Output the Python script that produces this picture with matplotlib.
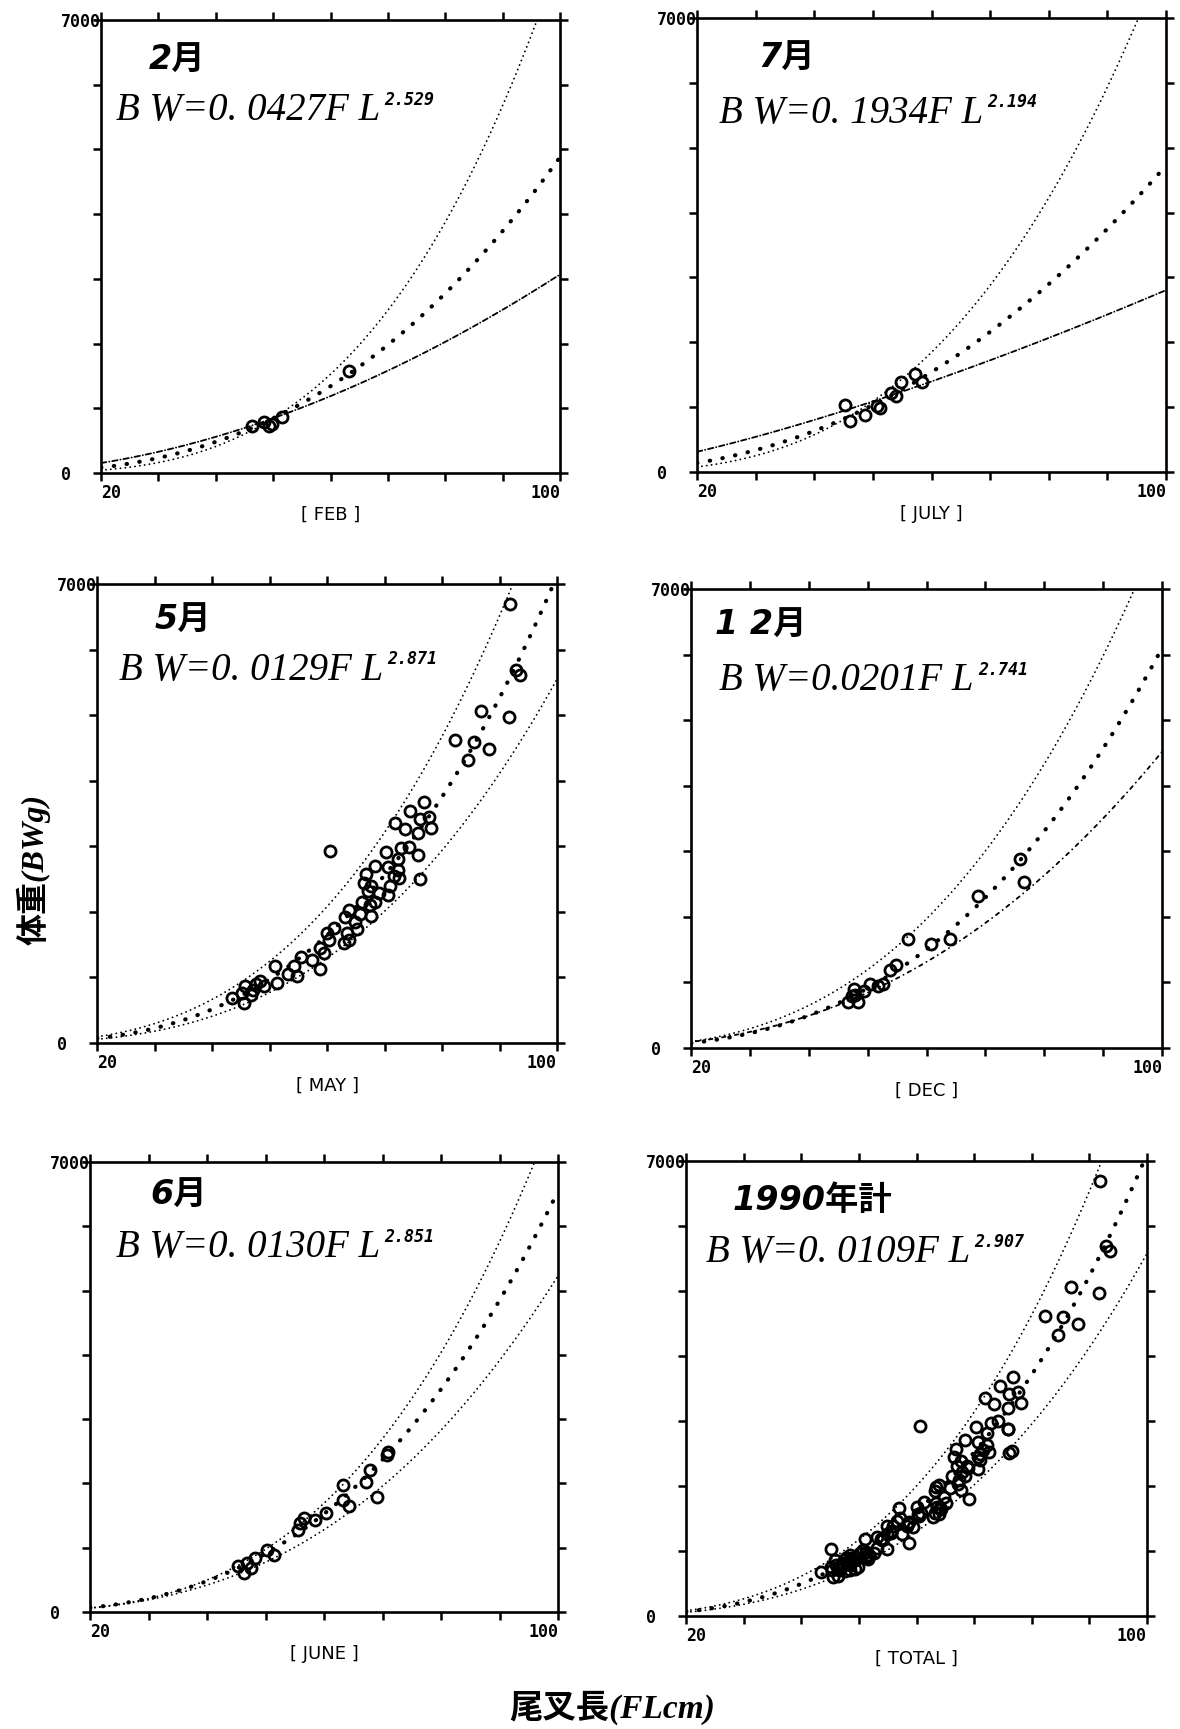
import numpy as np
import matplotlib
matplotlib.use('Agg')
import matplotlib.pyplot as plt

# panel order: FEB, JULY, MAY, DEC, JUNE, TOTAL
MONTH_TAGS = ['[ FEB ]', '[ JULY ]', '[ MAY ]', '[ DEC ]', '[ JUNE ]', '[ TOTAL ]']
MONTH_TITLES = ['2月', '7月', '5月', '1 2月', '6月', '1990年計']
EQ_COEF = ['0. 0427', '0. 1934', '0. 0129', '0.0201', '0. 0130', '0. 0109']
EQ_EXP = ['2.529', '2.194', '2.871', '2.741', '2.851', '2.907']

# fitted BW = a * FL^b (middle curve) and the two band curves
FIT_A = [0.0427, 0.1934, 0.0129, 0.0201, 0.0130, 0.0109]
FIT_B = [2.529, 2.194, 2.871, 2.741, 2.851, 2.907]
UPPER_A = [0.002645, 0.01397, 0.02045, 0.02655, 0.00722, 0.01285]
UPPER_B = [3.24, 2.88, 2.816, 2.739, 3.02, 2.92]
LOWER_A = [0.590, 5.22, 0.01107, 0.0656, 0.01616, 0.01113]
LOWER_B = [1.858, 1.365, 2.85, 2.419, 2.755, 2.85]

# observed fish (fork length cm, body weight g)
FEB_FL = [46.4, 48.4, 49.3, 49.8, 51.6, 63.2]
FEB_BW = [720, 790, 720, 760, 870, 1580]

JULY_FL = [45.2, 46.1, 48.6, 50.7, 51.3, 53.1, 54.0, 54.8, 57.2, 58.4]
JULY_BW = [1030, 780, 885, 1015, 990, 1220, 1170, 1380, 1510, 1380]

MAY_FL = [91.9, 92.9, 93.5, 86.8, 91.7, 82.3, 85.5, 88.1, 84.5, 76.8,
          74.5, 71.9, 76.1, 77.7, 73.5, 78.1, 75.8, 60.6, 70.3, 72.9,
          74.2, 75.8, 72.3, 68.4, 70.6, 72.3, 66.8, 71.6, 72.6, 76.1,
          66.5, 67.7, 71.0, 67.1, 69.0, 70.6, 66.1, 67.4, 68.4, 63.9,
          65.8, 67.7, 63.2, 64.8, 65.2, 61.3, 60.0, 63.5, 63.9, 62.9,
          60.3, 58.7, 59.4, 57.4, 55.5, 58.7, 54.2, 53.2, 54.8, 51.0,
          51.3, 48.4, 47.7, 49.0, 47.1, 45.8, 45.2, 43.5, 45.5, 46.8]
MAY_BW = [6695, 5687, 5619, 5067, 4973, 4621, 4595, 4490, 4322, 3676,
          3545, 3361, 3413, 3440, 3256, 3282, 3203, 2925, 2914, 2967,
          2993, 2872, 2809, 2704, 2678, 2636, 2573, 2547, 2520, 2505,
          2442, 2389, 2400, 2311, 2284, 2258, 2153, 2100, 2153, 2022,
          1969, 1943, 1917, 1838, 1733, 1759, 1680, 1680, 1575, 1523,
          1575, 1444, 1365, 1260, 1313, 1129, 1181, 1050, 1024, 1181,
          919, 945, 893, 866, 814, 866, 761, 683, 604, 735]

DEC_FL = [75.8, 76.6, 68.8, 64.0, 60.8, 56.9, 54.8, 53.8, 52.6, 51.7,
          50.4, 49.3, 47.7, 47.3, 46.7, 48.4, 47.9]
DEC_BW = [2875, 2538, 2312, 1655, 1587, 1655, 1261, 1182, 972, 946,
          972, 867, 893, 788, 709, 709, 814]

JUNE_FL = [71.0, 70.7, 67.9, 67.2, 63.3, 63.3, 64.3, 69.1, 60.4, 58.5,
           56.6, 55.9, 55.6, 50.2, 51.4, 48.2, 46.9, 45.3, 46.3, 47.6]
JUNE_BW = [2493, 2442, 2209, 2029, 1977, 1745, 1642, 1796, 1538, 1435,
           1461, 1383, 1280, 971, 893, 841, 764, 712, 609, 687]

TOTAL_FL = FEB_FL + JULY_FL + MAY_FL + DEC_FL + JUNE_FL
TOTAL_BW = FEB_BW + JULY_BW + MAY_BW + DEC_BW + JUNE_BW

PANEL_FL = [FEB_FL, JULY_FL, MAY_FL, DEC_FL, JUNE_FL, TOTAL_FL]
PANEL_BW = [FEB_BW, JULY_BW, MAY_BW, DEC_BW, JUNE_BW, TOTAL_BW]

X_TICKS = list(range(20, 101, 10))
Y_TICKS = list(range(0, 7001, 1000))

# layout (figure pixels: left, right, top, bottom)
W, H = 1180, 1729
BOXES = [(101, 560, 20, 473), (697, 1166, 18, 472),
         (97, 557, 584, 1043), (691, 1162, 589, 1048),
         (90, 558, 1162, 1612), (686, 1147, 1161, 1616)]
TITLE_POS = [(0.105, 0.912), (0.13, 0.912), (0.125, 0.92), (0.05, 0.92),
             (0.13, 0.925), (0.10, 0.914)]
EQ_POS = [(0.033, 0.80), (0.047, 0.79), (0.048, 0.812), (0.06, 0.80),
          (0.056, 0.81), (0.043, 0.798)]
LOWER_STYLE = [(0, (3, 1.6, 0.1, 1.6)), (0, (3, 1.6, 0.1, 1.6)),
               (0, (0.1, 2.6)), (0, (0.1, 2.6, 2, 2.6)),
               (0, (0.1, 2.6)), (0, (0.1, 2.6))]

CJK = 'Noto Sans CJK JP'

fig = plt.figure(figsize=(W / 100, H / 100), dpi=100)
fig.patch.set_facecolor('white')

fl_curve = np.linspace(20, 100, 500)

for i in range(6):
    l, r, t, b = BOXES[i]
    ax = fig.add_axes([l / W, 1 - b / H, (r - l) / W, (b - t) / H])

    ax.plot(fl_curve, UPPER_A[i] * fl_curve ** UPPER_B[i], color='k', lw=1.3,
            linestyle=(0, (0.1, 2.6)), dash_capstyle='round')
    ax.plot(fl_curve, LOWER_A[i] * fl_curve ** LOWER_B[i], color='k', lw=1.3,
            linestyle=LOWER_STYLE[i], dash_capstyle='round')
    ax.plot(fl_curve, FIT_A[i] * fl_curve ** FIT_B[i], color='k', lw=3.0,
            linestyle=(0, (0.1, 3.0)), dash_capstyle='round')
    ax.plot(PANEL_FL[i], PANEL_BW[i], 'o', mfc='none', mec='k', ms=8, mew=2.0)

    ax.set_xlim(20, 100)
    ax.set_ylim(0, 7000)
    ax.set_xticks(X_TICKS)
    ax.set_yticks(Y_TICKS)
    ax.set_xticklabels(['20'] + [''] * 7 + ['100'])
    ax.set_yticklabels(['0'] + [''] * 6 + ['7000'])
    ax.tick_params(direction='out', length=6, width=1.8, top=True, right=True,
                   labelsize=12, pad=2)
    ax.tick_params(axis='y', pad=23)
    for lab in ax.get_xticklabels() + ax.get_yticklabels():
        lab.set_fontfamily('DejaVu Sans Mono')
        lab.set_fontweight('bold')
    ax.get_xticklabels()[0].set_ha('left')
    ax.get_xticklabels()[-1].set_ha('right')
    for lab in ax.get_yticklabels():
        lab.set_ha('left')
    for sp in ax.spines.values():
        sp.set_linewidth(1.9)

    ax.set_xlabel(MONTH_TAGS[i], fontsize=13, family='DejaVu Sans')
    ax.xaxis.set_label_coords(0.5, -0.093)
    ax.xaxis.label.set_va('center')

    ax.text(TITLE_POS[i][0], TITLE_POS[i][1], MONTH_TITLES[i],
            transform=ax.transAxes, fontsize=24, fontweight='bold',
            style='italic',
            family=['Liberation Sans Narrow', 'DejaVu Sans', CJK],
            va='center', ha='left')
    eq = ax.text(EQ_POS[i][0], EQ_POS[i][1], 'B W=' + EQ_COEF[i] + 'F L',
                 transform=ax.transAxes, fontsize=28, style='italic',
                 family='Liberation Serif', va='center', ha='left')
    ax.annotate(EQ_EXP[i], xy=(1, 1), xycoords=eq, xytext=(3, 1),
                textcoords='offset points', fontsize=12, fontweight='bold',
                style='italic', family='DejaVu Sans Mono', va='top', ha='left')

fig.text(33 / W, 0.497, '体重(BWg)', rotation=90, fontsize=23,
         fontweight='bold', style='italic', family=['Liberation Serif', CJK],
         ha='center', va='center')
fig.text(0.519, 0.012, '尾叉長(FLcm)', fontsize=24, fontweight='bold',
         style='italic', family=['Liberation Serif', CJK],
         ha='center', va='center')

fig.savefig('out.png', dpi=100, facecolor='white')
